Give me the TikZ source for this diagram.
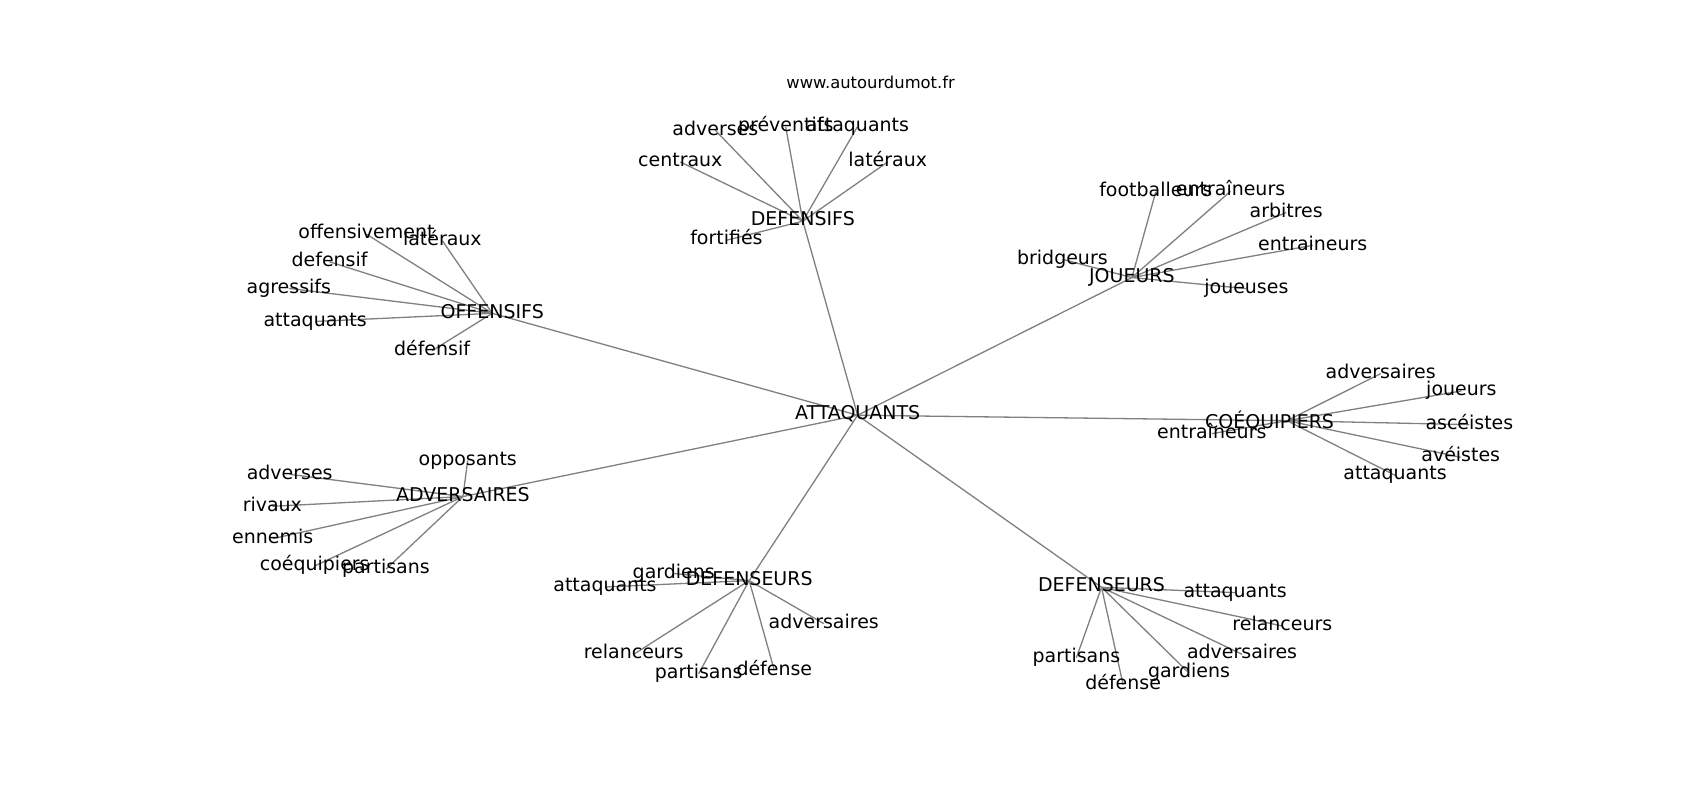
\documentclass[tikz,border=0pt]{standalone}
\usepackage{fontspec}
\setmainfont{DejaVu Sans}
\usetikzlibrary{backgrounds}
\begin{document}
\begin{tikzpicture}[x=1pt,y=-1pt,
  lbl/.style={inner sep=0pt, text height=1.1em, text depth=0.236em, font=\fontsize{17.5}{21}\selectfont},
  ttl/.style={inner sep=0pt, text height=1.1em, text depth=0.236em, font=\fontsize{15.1}{18}\selectfont},
  edge/.style={draw=gray, line width=1.2pt}]
\useasboundingbox (0,0) rectangle (1568,738);
% title
\node[ttl] (title) at (803,77.5) {www.autourdumot.fr};
% hub
\node[lbl] (hub) at (791,383) {ATTAQUANTS};
% OFFENSIFS cluster
\node[lbl] (off) at (454,289) {OFFENSIFS};
\node[lbl] (off1) at (338,216) {offensivement};
\node[lbl] (off2) at (408,222) {latéraux};
\node[lbl] (off3) at (304,241.5) {defensif};
\node[lbl] (off4) at (266.4,266) {agressifs};
\node[lbl] (off5) at (290.7,296.5) {attaquants};
\node[lbl] (off6) at (398.5,323.5) {défensif};
% DEFENSIFS cluster
\node[lbl] (dfs) at (740.5,204) {DEFENSIFS};
\node[lbl] (dfs1) at (627.5,149.4) {centraux};
\node[lbl] (dfs2) at (659.8,120.2) {adverses};
\node[lbl] (dfs3) at (724.7,117) {préventifs};
\node[lbl] (dfs4) at (790.8,117) {attaquants};
\node[lbl] (dfs5) at (818.8,149.4) {latéraux};
\node[lbl] (dfs6) at (670,221.6) {fortifiés};
% JOUEURS cluster
\node[lbl] (jou) at (1044,256) {JOUEURS};
\node[lbl] (jou1) at (1066,177) {footballeurs};
\node[lbl] (jou2) at (1135,176.4) {entraîneurs};
\node[lbl] (jou3) at (1186.3,196) {arbitres};
\node[lbl] (jou4) at (1210.8,226.3) {entraineurs};
\node[lbl] (jou5) at (1149.6,266.2) {joueuses};
\node[lbl] (jou6) at (979.9,239.2) {bridgeurs};
% COEQUIPIERS cluster
\coordinate (coeq) at (1187,388);
\node[lbl] (coeqL) at (1171,391) {COÉQUIPIERS};
\node[lbl] (coe1) at (1273.5,344.6) {adversaires};
\node[lbl] (coe2) at (1347.9,360.6) {joueurs};
\node[lbl] (coe3) at (1355.3,391.7) {ascéistes};
\node[lbl] (coe4) at (1347.3,421.8) {avéistes};
\node[lbl] (coe5) at (1286.7,438.4) {attaquants};
\node[lbl] (coe6) at (1117.7,400) {entraîneurs};
% ADVERSAIRES cluster
\node[lbl] (adv) at (427,458) {ADVERSAIRES};
\node[lbl] (adv1) at (431.4,424.6) {opposants};
\node[lbl] (adv2) at (267.2,437.5) {adverses};
\node[lbl] (adv3) at (251.2,467) {rivaux};
\node[lbl] (adv4) at (251.5,496.8) {ennemis};
\node[lbl] (adv5) at (290.3,522) {coéquipiers};
\node[lbl] (adv6) at (356,525) {partisans};
% DEFENSEURS (left) cluster
\node[lbl] (dl) at (691,535.5) {DEFENSEURS};
\node[lbl] (dl1) at (621.4,529) {gardiens};
\node[lbl] (dl2) at (558,541.4) {attaquants};
\node[lbl] (dl3) at (759.8,575.2) {adversaires};
\node[lbl] (dl4) at (584.5,603.5) {relanceurs};
\node[lbl] (dl5) at (644.4,621.4) {partisans};
\node[lbl] (dl6) at (714.2,618.3) {défense};
% DEFENSEURS (right) cluster
\node[lbl] (dr) at (1016,541.7) {DEFENSEURS};
\node[lbl] (dr1) at (1139.2,546.6) {attaquants};
\node[lbl] (dr2) at (1182.8,577.4) {relanceurs};
\node[lbl] (dr3) at (1145.6,603.5) {adversaires};
\node[lbl] (dr4) at (1096.7,620.8) {gardiens};
\node[lbl] (dr5) at (1035.9,631.5) {défense};
\node[lbl] (dr6) at (992.8,606.6) {partisans};
\begin{scope}[on background layer]
\fill[white] (0,0) rectangle (1568,738);
\foreach \c in {off,dfs,jou,adv,dl,dr}{
  \draw[edge] (hub.center) -- (\c.center);
  \foreach \i in {1,...,6}{ \draw[edge] (\c.center) -- (\c\i.center); }
}
\draw[edge] (hub.center) -- (coeq);
\foreach \i in {1,...,6}{ \draw[edge] (coeq) -- (coe\i.center); }
\end{scope}
\end{tikzpicture}
\end{document}
